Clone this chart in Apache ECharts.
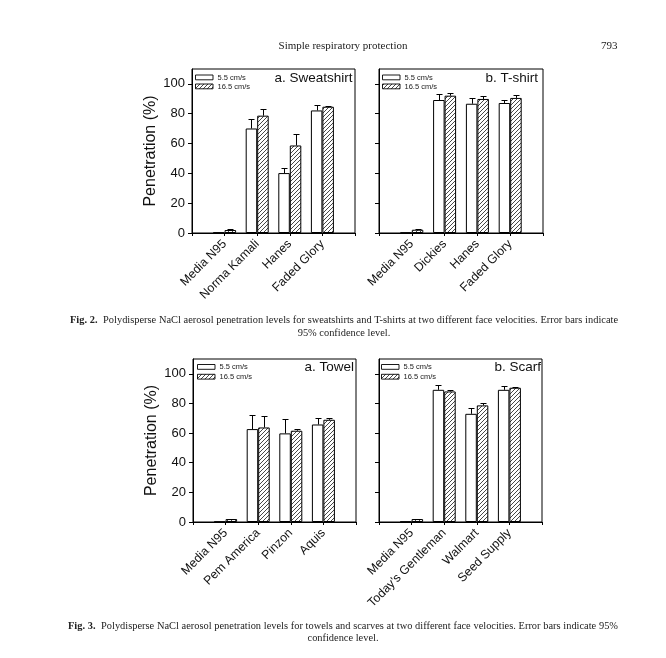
<!DOCTYPE html>
<html>
<head>
<meta charset="utf-8">
<script src="https://cdn.jsdelivr.net/npm/echarts@6.0.0/dist/echarts.min.js"></script>
<style>
  html, body { margin:0; padding:0; background:#fff; }
  #page { position:relative; width:666px; height:658px; overflow:hidden; }
  #chart { position:absolute; left:0; top:0; width:666px; height:658px; }
  .t { position:absolute; font-family:"Liberation Serif","Times New Roman",serif; color:#222; white-space:nowrap; }
  .just { text-align:justify; text-align-last:justify; white-space:normal; }
</style>
</head>
<body>
<div id="page">
  <div id="chart"></div>
  <div class="t" style="left:243px;width:200px;text-align:center;top:39px;font-size:11px;line-height:13px;">Simple respiratory protection</div>
  <div class="t" style="left:601px;top:39px;font-size:11px;line-height:13px;">793</div>
  <div class="t just cap1" style="left:70px;width:548px;top:313px;font-size:11px;line-height:13px;"><b>Fig. 2.</b>&nbsp; Polydisperse NaCl aerosol penetration levels for sweatshirts and T-shirts at two different face velocities. Error bars indicate</div>
  <div class="t cap2" style="left:70px;width:548px;text-align:center;top:326px;font-size:11px;line-height:13px;">95% confidence level.</div>
  <div class="t just cap1" style="left:68px;width:550px;top:619px;font-size:11px;line-height:13px;"><b>Fig. 3.</b>&nbsp; Polydisperse NaCl aerosol penetration levels for towels and scarves at two different face velocities. Error bars indicate 95%</div>
  <div class="t cap2" style="left:68px;width:550px;text-align:center;top:631px;font-size:11px;line-height:13px;">confidence level.</div>
</div>
<script>
// ---------- data ----------
const seriesNames = ['5.5 cm/s', '16.5 cm/s'];
const yTicks = [0, 20, 40, 60, 80, 100];

const catsSweatshirt = ['Media N95', 'Norma Kamali', 'Hanes', 'Faded Glory'];
const lowSweatshirt = [0.3, 70.1, 40.2, 82.2];
const lowErrSweatshirt = [0, 6.1, 3.6, 3.4];
const highSweatshirt = [2.0, 78.7, 58.7, 84.7];
const highErrSweatshirt = [0.7, 4.2, 8.0, 0.5];

const catsTshirt = ['Media N95', 'Dickies', 'Hanes', 'Faded Glory'];
const lowTshirt = [0.2, 89.2, 86.7, 87.2];
const lowErrTshirt = [0, 3.8, 3.6, 1.8];
const highTshirt = [2.2, 92.1, 89.9, 90.6];
const highErrTshirt = [0.7, 2.1, 2.0, 1.8];

const catsTowel = ['Media N95', 'Pem America', 'Pinzon', 'Aquis'];
const lowTowel = [0.2, 62.7, 59.8, 65.8];
const lowErrTowel = [0, 9.2, 9.9, 4.5];
const highTowel = [2.0, 63.8, 61.6, 69.0];
const highErrTowel = [0.2, 7.7, 0.9, 1.3];

const catsScarf = ['Media N95', "Today's Gentleman", 'Walmart', 'Seed Supply'];
const lowScarf = [0.2, 89.2, 73.0, 89.2];
const lowErrScarf = [0, 3.4, 3.6, 2.7];
const highScarf = [2.0, 88.1, 78.7, 90.6];
const highErrScarf = [0.2, 1.1, 1.3, 0.2];

const titles = ['a. Sweatshirt', 'b. T-shirt', 'a. Towel', 'b. Scarf'];

// fit caption first lines onto one justified line
let capSize = 11;
const firstLines = document.querySelectorAll('.cap1');
function tooTall() { return Array.from(firstLines).some(el => el.offsetHeight > 14); }
while (tooTall() && capSize > 8) {
  capSize -= 0.1;
  document.querySelectorAll('.cap1, .cap2').forEach(el => { el.style.fontSize = capSize.toFixed(2) + 'px'; });
}

// ---------- styling / layout ----------
const FONT = '"Liberation Sans", Arial, sans-serif';
const panels = [
  {cats: catsSweatshirt, low: lowSweatshirt, lowErr: lowErrSweatshirt, high: highSweatshirt, highErr: highErrSweatshirt,
   grid: {left:192, top:69, width:163, height:164}, showY: true, titleX: 352.5, titleY: 78, legX: 195.5, legY: 75},
  {cats: catsTshirt, low: lowTshirt, lowErr: lowErrTshirt, high: highTshirt, highErr: highErrTshirt,
   grid: {left:379, top:69, width:164, height:164}, showY: false, titleX: 538, titleY: 78, legX: 382.5, legY: 75},
  {cats: catsTowel, low: lowTowel, lowErr: lowErrTowel, high: highTowel, highErr: highErrTowel,
   grid: {left:193, top:359, width:163, height:163}, showY: true, titleX: 354, titleY: 367, legX: 197.5, legY: 364.5},
  {cats: catsScarf, low: lowScarf, lowErr: lowErrScarf, high: highScarf, highErr: highErrScarf,
   grid: {left:379, top:359, width:163, height:163}, showY: false, titleX: 541, titleY: 367, legX: 381.5, legY: 364.5}
];

// hatch pattern
function makeHatch() {
  const c = document.createElement('canvas');
  const s = 4;
  c.width = s; c.height = s;
  const g = c.getContext('2d');
  g.fillStyle = '#fff'; g.fillRect(0, 0, s, s);
  g.strokeStyle = '#333'; g.lineWidth = 0.9;
  g.beginPath();
  g.moveTo(-1, s + 1); g.lineTo(s + 1, -1);
  g.moveTo(-1, 1); g.lineTo(1, -1);
  g.moveTo(s - 1, s + 1); g.lineTo(s + 1, s - 1);
  g.stroke();
  return c;
}
const hatch = {image: makeHatch(), repeat: 'repeat'};

const BAR_W = 11.5;
function errRender(dx) {
  return function (params, api) {
    const ci = api.value(0), v0 = api.value(1), v1 = api.value(2);
    if (!(v1 > v0)) return null;
    const p0 = api.coord([ci, v0]);
    const p1 = api.coord([ci, v1]);
    const x = Math.round(p0[0] + dx) + 0.5;
    const yt = Math.round(p1[1]) + 0.5;
    return {
      type: 'group',
      children: [
        {type: 'line', shape: {x1: x, y1: p0[1], x2: x, y2: yt}, style: {stroke: '#000', lineWidth: 1}},
        {type: 'line', shape: {x1: x - 3, y1: yt, x2: x + 3, y2: yt}, style: {stroke: '#000', lineWidth: 1}}
      ]
    };
  };
}

const grids = [], xAxes = [], yAxes = [], series = [], graphics = [];
panels.forEach((p, i) => {
  grids.push(Object.assign({show: true, borderColor: '#000', borderWidth: 1, backgroundColor: 'transparent'}, p.grid));
  xAxes.push({
    type: 'category', gridIndex: i, boundaryGap: false,
    data: [''].concat(p.cats, ['']),
    axisLine: {lineStyle: {color: '#000', width: 1}},
    axisTick: {show: true, inside: false, length: 3, interval: 0, lineStyle: {color: '#000'}},
    axisLabel: {interval: 0, rotate: 45, margin: 9, color: '#111', fontSize: 12.3, fontFamily: FONT},
    splitLine: {show: false}
  });
  yAxes.push({
    type: 'value', gridIndex: i, min: 0, max: 110, interval: 20,
    name: p.showY ? 'Penetration (%)' : '', nameLocation: 'middle', nameGap: 33,
    nameTextStyle: {fontSize: 16, color: '#111', fontFamily: FONT},
    axisLine: {show: true, lineStyle: {color: '#000', width: 1}},
    axisTick: {show: true, inside: false, length: 4, lineStyle: {color: '#000'}, customValues: yTicks},
    axisLabel: {show: p.showY, margin: 7, color: '#111', fontSize: 13, fontFamily: FONT, customValues: yTicks},
    splitLine: {show: false}
  });
  const lowData = [null].concat(p.low, [null]);
  const highData = [null].concat(p.high, [null]);
  series.push({
    type: 'bar', name: seriesNames[0], xAxisIndex: i, yAxisIndex: i, data: lowData,
    barWidth: BAR_W, barGap: '0%', itemStyle: {color: '#fff', borderColor: '#000', borderWidth: 1}, silent: true, z: 2
  });
  series.push({
    type: 'bar', name: seriesNames[1], xAxisIndex: i, yAxisIndex: i, data: highData,
    barWidth: BAR_W, barGap: '0%', itemStyle: {color: hatch, borderColor: '#000', borderWidth: 1}, silent: true, z: 2
  });
  series.push({
    type: 'custom', xAxisIndex: i, yAxisIndex: i, z: 3, silent: true,
    renderItem: errRender(-BAR_W / 2), encode: {x: 0, y: [1, 2]},
    data: p.low.map((v, k) => [k + 1, v, v + p.lowErr[k]])
  });
  series.push({
    type: 'custom', xAxisIndex: i, yAxisIndex: i, z: 3, silent: true,
    renderItem: errRender(BAR_W / 2), encode: {x: 0, y: [1, 2]},
    data: p.high.map((v, k) => [k + 1, v, v + p.highErr[k]])
  });
  // panel title
  graphics.push({
    type: 'text', x: p.titleX, y: p.titleY, z: 10,
    style: {text: titles[i], fill: '#111', font: '13.5px ' + FONT, textAlign: 'right', textVerticalAlign: 'middle'}
  });
  // legend
  const rowGap = i < 2 ? 9 : 9.8;
  [0, 1].forEach(r => {
    const y = p.legY + r * rowGap;
    graphics.push({
      type: 'rect', z: 10,
      shape: {x: p.legX, y: y, width: 17.5, height: 4.8},
      style: {fill: r === 0 ? '#fff' : hatch, stroke: '#000', lineWidth: 0.9}
    });
    graphics.push({
      type: 'text', x: p.legX + 22, y: y + 2.6, z: 10,
      style: {text: seriesNames[r], fill: '#222', font: '7.5px ' + FONT, textVerticalAlign: 'middle'}
    });
  });
});

const chart = echarts.init(document.getElementById('chart'), null, {renderer: 'canvas'});
chart.setOption({
  animation: false,
  backgroundColor: '#fff',
  grid: grids,
  xAxis: xAxes,
  yAxis: yAxes,
  series: series,
  graphic: graphics
});
</script>
</body>
</html>
